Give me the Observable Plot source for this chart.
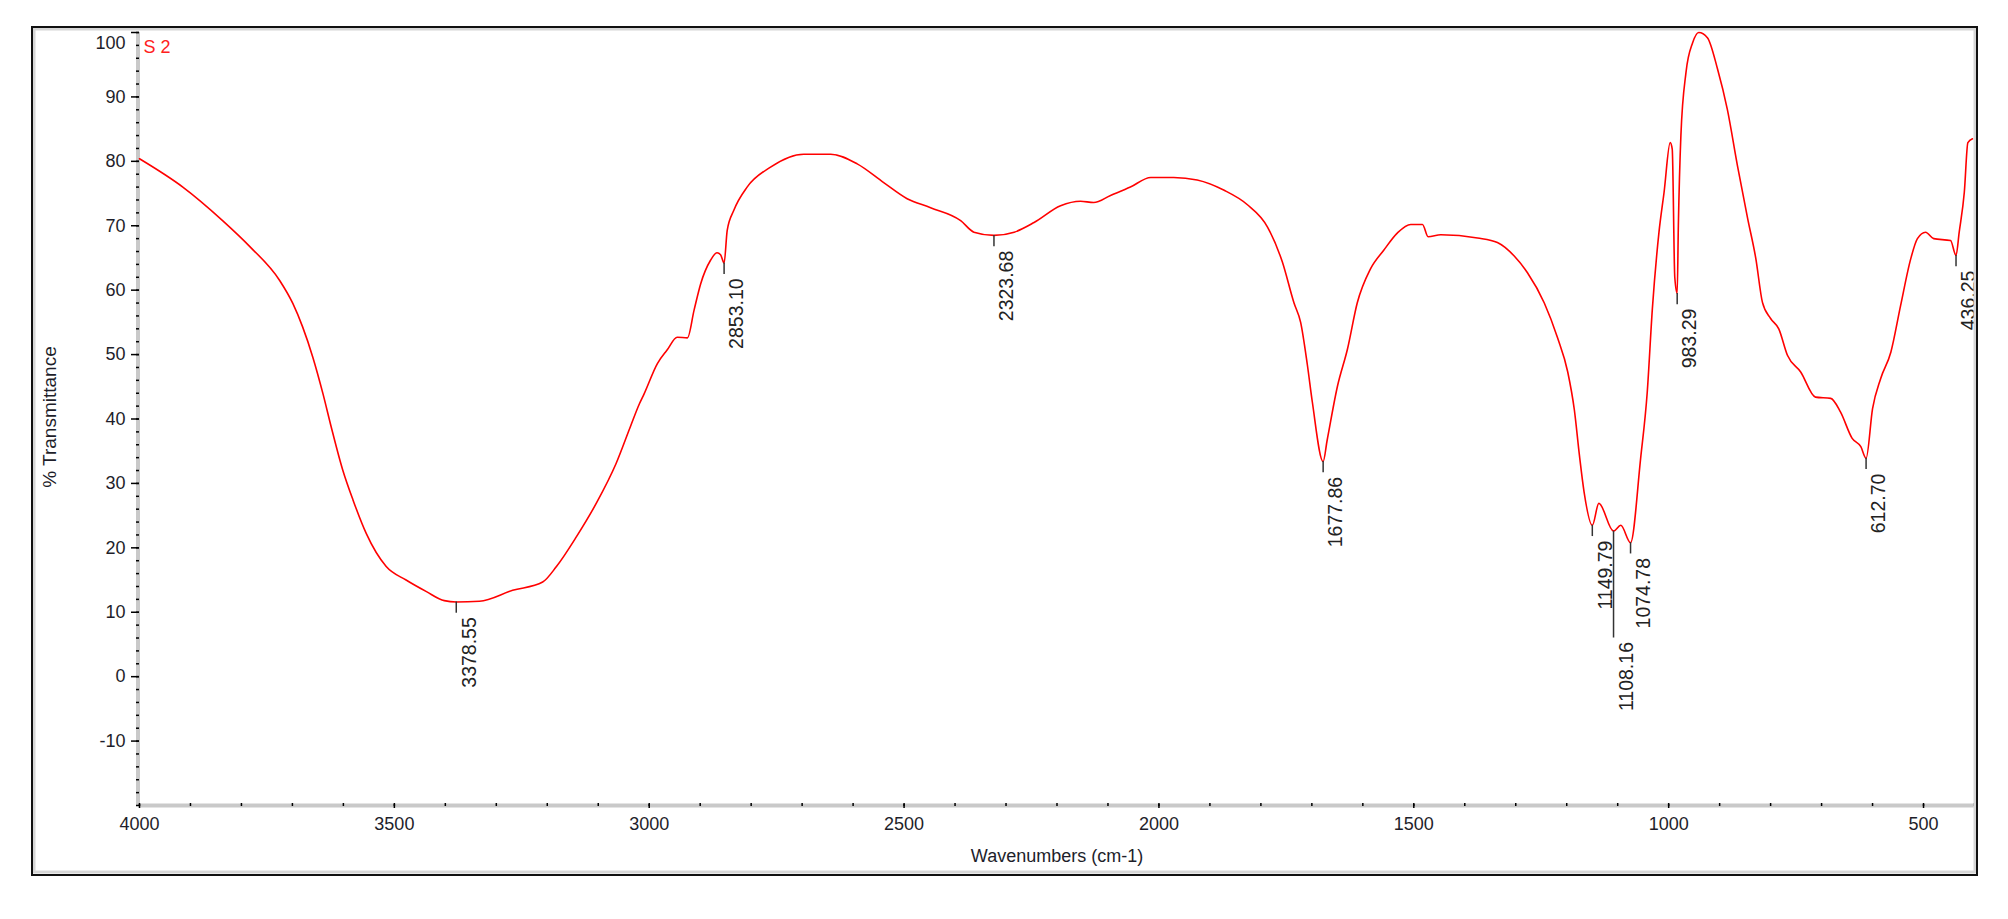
<!DOCTYPE html>
<html>
<head>
<meta charset="utf-8">
<script src="https://cdn.jsdelivr.net/npm/d3@7"></script>
<script src="https://cdn.jsdelivr.net/npm/@observablehq/plot@0.6"></script>
<style>
  html, body { margin: 0; padding: 0; background: #fff; }
  #chart svg { display: block; }
</style>
</head>
<body>
<div id="chart"></div>
<script>
// ---- data ----
const wavenumber = [4000,3915,3837,3784,3725,3699,3680,3660,3640,3624,3601,3581,3555,3516,3477,3437,3402,3378.55,3333,3268,3209,3182,3143,3104,3065,3037,3019,3010,2984,2965,2945,2925,2912,2899,2880,2867,2860,2853.10,2847,2834,2808,2762,2697,2644,2592,2540,2494,2448,2389,2363,2323.68,2284,2245,2193,2154,2128,2095,2056,2016,1971,1925,1872,1827,1787,1758,1735,1722,1709,1699,1677.86,1670,1650,1630,1611,1585,1559,1532,1506,1483,1472,1447,1375,1336,1303,1277,1244,1218,1198,1185,1175,1166,1149.79,1137,1108.16,1094,1074.78,1055,1042,1032,1019,1009,997,993,988,983.29,981,976,966,953,941,924,904,885,865,845,829,816,800,784,767,741,712,682,663,640,623,612.70,600,584,564,545,525,512,496,480,447,436.25,430,420,413,404];
const transmittance = [80.4,76.0,70.8,66.8,61.5,57.9,54.3,49.6,43.9,38.8,32.0,27.4,22.2,17.1,15.0,13.2,11.8,11.6,11.7,13.4,14.7,17.1,21.7,26.9,33.1,38.8,42.4,43.9,48.6,50.7,52.7,52.6,56.9,61.0,64.6,65.8,65.5,64.2,69.3,72.4,76.0,79.1,81.1,81.1,79.6,76.7,74.2,72.8,70.8,69.0,68.5,69.0,70.5,73.1,73.8,73.6,74.7,76.0,77.5,77.5,77.1,75.5,73.3,69.8,64.4,58.0,55.0,48.5,42.6,33.4,36.7,45.0,50.9,58.0,63.3,66.2,68.9,70.2,70.2,68.3,68.6,68.1,67.4,65.3,62.7,58.0,52.6,47.3,41.4,34.3,28.7,23.5,26.9,22.6,23.5,20.8,33.9,44.2,57.1,69.0,75.2,82.9,81.9,62.0,59.5,70.0,84.0,93.8,98.4,100,99.2,94.3,88.1,79.3,71.1,64.9,58.1,55.6,54.0,49.9,47.3,43.4,43.2,41.1,37.0,35.7,33.9,41.6,46.3,50.4,57.6,64.9,68.0,69.0,68.0,67.7,65.4,69.0,75.2,82.9,83.5];

const peakLabels = ["3378.55","2853.10","2323.68","1677.86","1149.79","1108.16","1074.78","983.29","612.70","436.25"];
const peakWavenumber = [3378.55,2853.10,2323.68,1677.86,1149.79,1108.16,1074.78,983.29,612.70,436.25];
const peakT = [11.6,64.2,68.5,33.4,23.5,22.6,20.8,59.5,33.9,65.4];

const xTicks = [4000,3500,3000,2500,2000,1500,1000,500];
const yTicks = [-10,0,10,20,30,40,50,60,70,80,90];
const yTop = [100];
const seriesName = ["S 2"];
const xTitle = ["Wavenumbers (cm-1)"];
const yTitle = ["% Transmittance"];

// ---- build tables ----
const spectrum = wavenumber.map((w, i) => ({w, t: transmittance[i]}));
const longTicks = new Set(["1108.16"]);
const peaks = peakLabels.map((label, i) => ({
  label, w: peakWavenumber[i], t: peakT[i],
  end: peakT[i] - (longTicks.has(label) ? 16.6 : 1.75)
}));

const font = "Arial, 'Liberation Sans', Helvetica, sans-serif";
const ink = "#1e1e2a";
const plain = d => String(d);

const chart = Plot.plot({
  width: 2008,
  height: 919,
  marginLeft: 139,
  marginRight: 34,
  marginTop: 32,
  marginBottom: 114,
  x: {domain: [4000, 400], label: null},
  y: {domain: [-20, 100], label: null},
  style: {fontFamily: font, background: "white", color: ink, overflow: "visible"},
  marks: [
    // axis bars
    Plot.ruleX([4000], {stroke: "#c9c9c9", strokeWidth: 4, dx: -1.5}),
    Plot.ruleY([-20], {stroke: "#c9c9c9", strokeWidth: 4}),
    // minor ticks
    Plot.axisY(d3.range(-20, 101, 2), {anchor: "left", tickSize: 3, tickFormat: () => "", stroke: "#000", strokeWidth: 1.5, label: null}),
    Plot.axisX(d3.range(4000, 399, -100), {anchor: "bottom", tickSize: 3, tickFormat: () => "", stroke: "#000", strokeWidth: 1.5, dy: -2, label: null}),
    // major ticks + labels
    Plot.axisY(yTicks, {anchor: "left", tickSize: 8, tickPadding: 6, fontSize: 18, fill: ink, stroke: "#000", strokeWidth: 1.5, tickFormat: plain, label: null}),
    Plot.axisY(yTop, {anchor: "left", tickSize: 8, tickFormat: () => "", stroke: "#000", strokeWidth: 1.5, label: null}),
    Plot.text(yTop, {x: 4000, y: d => d, text: plain, textAnchor: "end", dx: -14, dy: 11, fontSize: 18, fill: ink}),
    Plot.axisX(xTicks, {anchor: "bottom", tickSize: 4, tickPadding: 9, fontSize: 18, fill: ink, stroke: "#000", strokeWidth: 1.5, dy: -1, tickFormat: plain, label: null}),
    // titles
    Plot.text(xTitle, {frameAnchor: "bottom", lineAnchor: "middle", textAnchor: "middle", dy: 51, fontSize: 18, fill: ink}),
    Plot.text(yTitle, {frameAnchor: "left", rotate: -90, lineAnchor: "middle", textAnchor: "middle", dx: -90, dy: -2, fontSize: 19, fill: ink}),
    Plot.text(seriesName, {frameAnchor: "top-left", textAnchor: "start", lineAnchor: "top", dx: 4, dy: 8, fontSize: 18, fill: "#ff2020"}),
    // spectrum
    Plot.line(spectrum, {x: "w", y: "t", stroke: "#ff0000", strokeWidth: 1.6, curve: "monotone-x"}),
    // peak markers and labels
    Plot.ruleX(peaks, {x: "w", y1: "t", y2: "end", stroke: "#333", strokeWidth: 1.5}),
    Plot.text(peaks, {x: "w", y: "end", text: "label", rotate: -90, textAnchor: "end", lineAnchor: "middle", dx: 13, dy: 4, fontSize: 19.5, fill: "#222"})
  ]
});

document.getElementById("chart").appendChild(chart);

// outer panel frame (decorative)
const svg = d3.select(chart);
svg.append("rect").attr("x", 34).attr("y", 29).attr("width", 1941).attr("height", 843)
  .attr("fill", "none").attr("stroke", "#d6d6d6").attr("stroke-width", 3);
svg.append("rect").attr("x", 32).attr("y", 27).attr("width", 1945).attr("height", 848)
  .attr("fill", "none").attr("stroke", "#111").attr("stroke-width", 2);
</script>
</body>
</html>
